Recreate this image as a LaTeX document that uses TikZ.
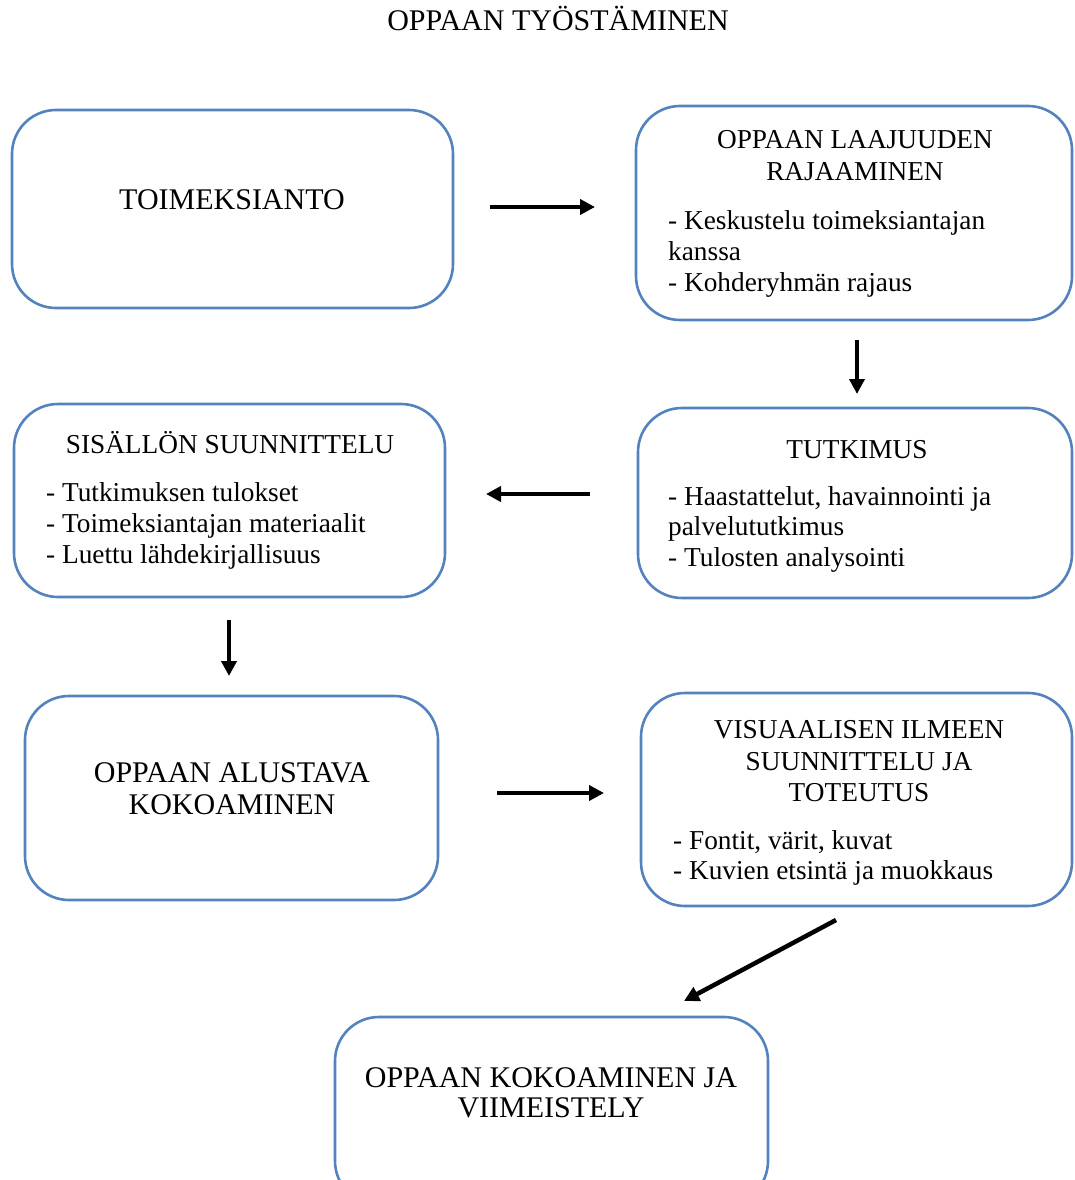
\documentclass[tikz,border=0pt]{standalone}
\usepackage{fontspec}
\setmainfont{Liberation Serif}
\usetikzlibrary{arrows.meta}
\definecolor{boxblue}{RGB}{84,130,189}
\tikzset{
  box/.style={draw=boxblue, line width=2.6pt, rounded corners=44pt, fill=white, rectangle, inner sep=0pt},
  head/.style={anchor=base, inner sep=0pt, font=\fontsize{27.3}{31}\selectfont},
  bighead/.style={anchor=base, inner sep=0pt, font=\fontsize{30}{31}\selectfont},
  bul/.style={anchor=base west, inner sep=0pt, font=\fontsize{27.3}{31}\selectfont},
  arr/.style={line width=4.5pt, -{Triangle[length=15pt,width=15pt]}}
}
\begin{document}
\begin{tikzpicture}[x=1pt,y=-1pt]
\useasboundingbox (0,0) rectangle (1074,1180);
\clip (0,0) rectangle (1074,1180);
\fill[white] (0,0) rectangle (1074,1180);

\node[bighead] (title) at (558,31) {OPPAAN TYÖSTÄMINEN};

% boxes
\node[box, minimum width=441pt, minimum height=198pt] (b1) at (232.5,209) {};
\node[box, minimum width=436pt, minimum height=214pt] (b2) at (854,213) {};
\node[box, minimum width=434pt, minimum height=190pt] (b3) at (855,503) {};
\node[box, minimum width=431pt, minimum height=193pt] (b4) at (229.5,500.5) {};
\node[box, minimum width=413pt, minimum height=204pt] (b5) at (231.5,798) {};
\node[box, minimum width=431pt, minimum height=213pt] (b6) at (856.5,799.5) {};
\node[box, minimum width=433pt, minimum height=188pt] (b7) at (551.5,1111) {};

% texts
\node[bighead] (t1) at (232,209) {TOIMEKSIANTO};

\node[head] (t2a) at (855,149) {OPPAAN LAAJUUDEN};
\node[head] (t2b) at (855,180) {RAJAAMINEN};
\node[bul] (t2c) at (668,229) {- Keskustelu toimeksiantajan};
\node[bul] (t2d) at (668,260) {kanssa};
\node[bul] (t2e) at (668,291) {- Kohderyhmän rajaus};

\node[head] (t3a) at (857,458) {TUTKIMUS};
\node[bul] (t3b) at (668,505) {- Haastattelut, havainnointi ja};
\node[bul] (t3c) at (668,535) {palvelututkimus};
\node[bul] (t3d) at (668,566) {- Tulosten analysointi};

\node[head] (t4a) at (230,453) {SISÄLLÖN SUUNNITTELU};
\node[bul] (t4b) at (46,501) {- Tutkimuksen tulokset};
\node[bul] (t4c) at (46,532) {- Toimeksiantajan materiaalit};
\node[bul] (t4d) at (46,563) {- Luettu lähdekirjallisuus};

\node[bighead] (t5a) at (232,782) {OPPAAN ALUSTAVA};
\node[bighead] (t5b) at (232,814) {KOKOAMINEN};

\node[head] (t6a) at (859,738) {VISUAALISEN ILMEEN};
\node[head] (t6b) at (859,770) {SUUNNITTELU JA};
\node[head] (t6c) at (859,801) {TOTEUTUS};
\node[bul] (t6d) at (673,849) {- Fontit, värit, kuvat};
\node[bul] (t6e) at (673,879) {- Kuvien etsintä ja muokkaus};

\node[bighead] (t7a) at (551,1087) {OPPAAN KOKOAMINEN JA};
\node[bighead] (t7b) at (551,1117) {VIIMEISTELY};

% arrow end points
\coordinate (a1s) at (490,207);  \coordinate (a1e) at (595,207);
\coordinate (a2s) at (857,340);  \coordinate (a2e) at (857,394);
\coordinate (a3s) at (590,494);  \coordinate (a3e) at (486,494);
\coordinate (a4s) at (229,620);  \coordinate (a4e) at (229,676);
\coordinate (a5s) at (497,793);  \coordinate (a5e) at (604,793);
\coordinate (a6s) at (836,920);  \coordinate (a6e) at (684,1001);

\draw[arr] (a1s) -- (a1e);
\draw[arr] (a2s) -- (a2e);
\draw[arr] (a3s) -- (a3e);
\draw[arr] (a4s) -- (a4e);
\draw[arr] (a5s) -- (a5e);
\draw[arr] (a6s) -- (a6e);
\end{tikzpicture}
\end{document}
